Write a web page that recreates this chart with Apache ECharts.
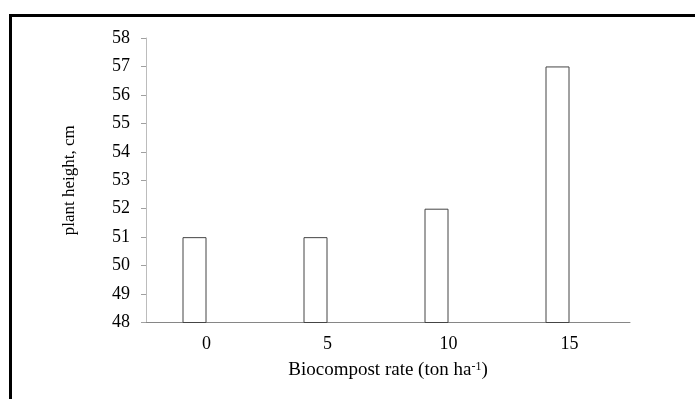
<!DOCTYPE html>
<html>
<head>
<meta charset="utf-8">
<script src="https://cdn.jsdelivr.net/npm/echarts@6/dist/echarts.min.js"></script>
<style>
html,body{margin:0;padding:0;background:#fff;}
#chart{width:695px;height:399px;}
</style>
</head>
<body>
<div id="chart"></div>
<script>
const categories = ['0', '5', '10', '15'];
const plantHeight = [51, 51, 52, 57];
const emptySeries = [null, null, null, null];
const yMin = 48, yMax = 58, yInterval = 1;

const chart = echarts.init(document.getElementById('chart'), null, {renderer: 'canvas'});
const font = '"Liberation Serif", "Times New Roman", serif';
chart.setOption({
  animation: false,
  backgroundColor: '#fff',
  graphic: [{
    type: 'rect',
    shape: {x: 10.5, y: 15.5, width: 720, height: 420},
    style: {fill: 'none', stroke: '#000', lineWidth: 3},
    silent: true
  }],
  grid: {left: 146, right: 65, top: 38, bottom: 76.5, containLabel: false},
  xAxis: {
    type: 'category',
    data: categories,
    axisLine: {lineStyle: {color: '#868686', width: 1}},
    axisTick: {show: false},
    axisLabel: {fontFamily: font, fontSize: 18, color: '#000', margin: 13},
    name: '{a|Biocompost rate (ton ha}{s|-1}{a|)}',
    nameLocation: 'middle',
    nameGap: 38,
    nameTextStyle: {
      rich: {
        a: {fontFamily: font, fontSize: 19, color: '#000'},
        s: {fontFamily: font, fontSize: 12, color: '#000', verticalAlign: 'top'}
      }
    }
  },
  yAxis: {
    type: 'value',
    min: yMin, max: yMax, interval: yInterval,
    splitLine: {show: false},
    axisLine: {show: true, lineStyle: {color: '#bcbcbc', width: 1}},
    axisTick: {show: true, length: 5, lineStyle: {color: '#a0a0a0'}},
    axisLabel: {fontFamily: font, fontSize: 18, color: '#000', margin: 16},
    name: 'plant height, cm',
    nameLocation: 'middle',
    nameGap: 68,
    nameRotate: 90,
    nameTextStyle: {fontFamily: font, fontSize: 17, color: '#000'}
  },
  series: [{
    type: 'bar',
    data: plantHeight,
    barWidth: 24,
    barGap: '0%',
    itemStyle: {color: '#fff', borderColor: '#444', borderWidth: 1}
  }, {
    type: 'bar',
    data: emptySeries,
    barWidth: 24,
    barGap: '0%',
    itemStyle: {color: '#fff', borderColor: '#444', borderWidth: 1}
  }]
});
</script>
</body>
</html>
